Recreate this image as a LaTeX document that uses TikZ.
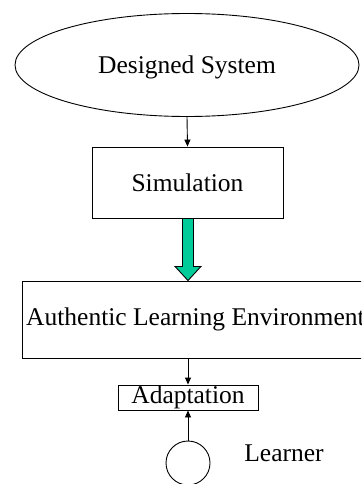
\documentclass[tikz,border=0pt]{standalone}
\usepackage{fontspec}
\setmainfont{Liberation Serif}
\usetikzlibrary{shapes.geometric,arrows.meta,calc}
\definecolor{arrgreen}{RGB}{0,204,153}
\begin{document}
\begin{tikzpicture}[x=1pt,y=-1pt,
  every node/.style={font=\fontsize{25.5}{30}\selectfont},
  box/.style={draw,line width=0.9pt,inner sep=0pt},
  arr/.style={line width=0.9pt,-{Triangle[length=7pt,width=6pt]}}]
\useasboundingbox (0,0) rectangle (361,484);
\clip (0,0) rectangle (361,484);
\node[box,ellipse,minimum width=344pt,minimum height=103pt] (ds) at (187,65) {};
\node (dst) at (187,67.5) {Designed System};
\node[box,minimum width=191pt,minimum height=71pt] (sim) at (187.5,182.5) {Simulation};
\node[box,minimum width=346pt,minimum height=77pt,anchor=west] (ale) at (22,319.5) {Authentic Learning Environment};
\node[box,minimum width=140pt,minimum height=25pt] (ad) at (188,397.5) {Adaptation};
\node[box,circle,minimum size=44pt] (lr) at (188,463) {};
\node (lt) at (284,453) {Learner};
\draw[arr] (ds.south) -- (sim.north);
\draw[line width=0.9pt,fill=arrgreen]
  ($(sim.south)+(-5,0)$) -- ($(sim.south)+(6,0)$) -- ($(sim.south)+(6,48)$)
  -- ($(sim.south)+(13.5,48)$) -- ($(ale.north -| sim.south)+(0.5,0)$)
  -- ($(sim.south)+(-12.5,48)$) -- ($(sim.south)+(-5,48)$) -- cycle;
\draw[arr] (ale.south -| ad.north) -- (ad.north);
\draw[arr] (lr.north) -- (ad.south);
\end{tikzpicture}
\end{document}
